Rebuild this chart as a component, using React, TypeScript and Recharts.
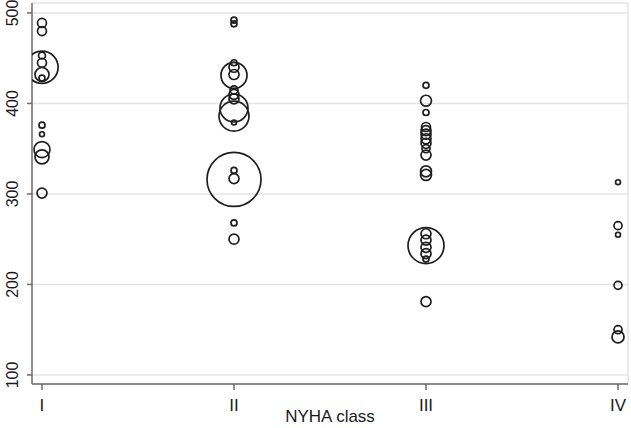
import React from "react";
import {
  ScatterChart,
  Scatter,
  XAxis,
  YAxis,
  ZAxis,
  CartesianGrid,
  ReferenceLine,
} from "recharts";

const classLabels = ["I", "II", "III", "IV"];
const yTicks = [100, 200, 300, 400, 500];

// 6-minute walk distance per patient and bubble weight, by NYHA class
const walkI = [489, 480, 440, 453, 445, 432, 428, 376, 366, 349, 341, 301];
const weightI = [20, 20, 260, 12, 20, 49, 9, 9, 6, 64, 49, 25];

const walkII = [492, 488, 445, 440, 431, 432, 415, 410, 405, 395, 386, 379, 316, 326, 317, 268, 250];
const weightII = [9, 9, 9, 25, 169, 25, 16, 25, 25, 196, 225, 6, 729, 9, 25, 9, 25];

const walkIII = [420, 403, 390, 374, 370, 366, 361, 356, 350, 343, 325, 321, 243, 256, 249, 241, 234, 228, 181];
const weightIII = [9, 30, 9, 20, 25, 25, 25, 25, 16, 25, 30, 30, 324, 25, 25, 25, 25, 9, 25];

const walkIV = [313, 265, 255, 199, 150, 142];
const weightIV = [6, 16, 6, 16, 16, 36];

const groups = [
  { walk: walkI, weight: weightI },
  { walk: walkII, weight: weightII },
  { walk: walkIII, weight: weightIII },
  { walk: walkIV, weight: weightIV },
];

const points = groups.flatMap((g, i) =>
  g.walk.map((v, j) => ({ x: i + 1, y: v, z: g.weight[j] }))
);

const font = "'Liberation Sans', Arial, Helvetica, sans-serif";

const Bubble = (props: any) => {
  const z = props.payload?.z ?? 9;
  return (
    <circle
      cx={props.cx}
      cy={props.cy}
      r={Math.sqrt(z)}
      fill="none"
      stroke="#1e1e1e"
      strokeWidth={1.7}
    />
  );
};

const YTick = (props: any) => {
  const { y, payload } = props;
  return (
    <text
      x={12}
      y={y}
      dy="0.36em"
      transform={`rotate(-90, 12, ${y})`}
      textAnchor="middle"
      fontSize={16}
      fontFamily={font}
      fill="#1a1a1a"
    >
      {payload.value}
    </text>
  );
};

const App = () => {
  return (
    <div style={{ position: "absolute", left: 0, top: 0, background: "#fff" }}>
      <ScatterChart
        width={631}
        height={428}
        margin={{ top: 3, right: 3, bottom: 0, left: 0 }}
      >
        <CartesianGrid
          vertical={false}
          stroke="#e4e4e4"
          strokeWidth={1.5}
        />
        <XAxis
          type="number"
          dataKey="x"
          domain={[0.948, 4.052]}
          ticks={[1, 2, 3, 4]}
          tickFormatter={(v: number) => classLabels[v - 1]}
          allowDataOverflow
          height={44}
          stroke="#6b6b6b"
          strokeWidth={1.5}
          tickSize={6}
          tickMargin={9}
          tick={{ fontSize: 17, fontFamily: font, fill: "#1a1a1a" }}
          label={{
            value: "NYHA class",
            position: "insideBottom",
            offset: 6,
            fontSize: 17,
            fontFamily: font,
            fill: "#1a1a1a",
          }}
        />
        <YAxis
          type="number"
          dataKey="y"
          domain={[90, 511]}
          ticks={yTicks}
          allowDataOverflow
          width={32}
          stroke="#6b6b6b"
          strokeWidth={1.5}
          tickSize={5}
          tick={<YTick />}
        />
        <ZAxis type="number" dataKey="z" domain={[0, 900]} range={[0, 900 * Math.PI]} />
        <ReferenceLine x={4.052} stroke="#e4e4e4" strokeWidth={1.5} />
        <Scatter data={points} shape={<Bubble />} isAnimationActive={false} />
      </ScatterChart>
    </div>
  );
};

export default App;
